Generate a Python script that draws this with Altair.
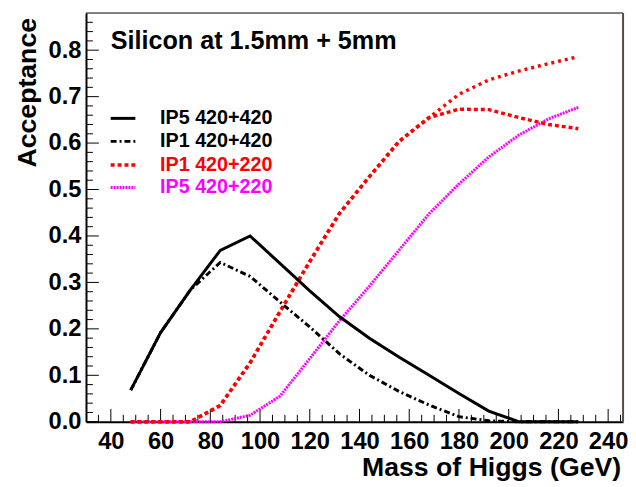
import altair as alt
import pandas as pd
import numpy as np

# ---- data ----
mass = [48, 60, 72, 84, 96, 108, 120, 132, 144, 156, 168, 180, 192, 204, 216, 228]
ip5_420_420 = [0.068, 0.192, 0.284, 0.369, 0.400, 0.341, 0.282, 0.226, 0.180, 0.139, 0.100, 0.061, 0.023, 0.0, 0.0, 0.0]
ip1_420_420 = [0.068, 0.192, 0.284, 0.343, 0.313, 0.258, 0.204, 0.146, 0.100, 0.065, 0.036, 0.011, 0.002, 0.0, 0.0, 0.0]
ip1_420_220 = [0.0, 0.0, 0.0, 0.035, 0.127, 0.237, 0.345, 0.449, 0.528, 0.604, 0.655, 0.673, 0.672, 0.655, 0.640, 0.631]
red_upper = [0.0, 0.0, 0.0, 0.035, 0.127, 0.237, 0.345, 0.449, 0.528, 0.604, 0.655, 0.705, 0.736, 0.755, 0.771, 0.786]
ip5_420_220 = [0.0, 0.0, 0.0, 0.0, 0.014, 0.055, 0.136, 0.218, 0.292, 0.370, 0.448, 0.512, 0.570, 0.617, 0.652, 0.677]

legend_labels = ["IP5 420+420", "IP1 420+420", "IP1 420+220", "IP5 420+220"]
x_tick_labels = [40, 60, 80, 100, 120, 140, 160, 180, 200, 220, 240]
y_tick_labels = [0.0, 0.1, 0.2, 0.3, 0.4, 0.5, 0.6, 0.7, 0.8]
title_text = "Silicon at 1.5mm + 5mm"
x_title = "Mass of Higgs (GeV)"
y_title = "Acceptance"

W, H = 544, 414
FONT = "Liberation Sans"
xs = alt.Scale(domain=[30, 246], nice=False, zero=False)
ys = alt.Scale(domain=[0, 0.88], nice=False, zero=False)

DASHDOT = [6, 3, 2, 3]
RED_DASH = [4, 3]
RED_DOT = [3, 4]
MAG_DOT = [2, 1]


def curve(vals, color, dash, width=3):
    df = pd.DataFrame({"m": mass, "a": vals})
    kw = dict(color=color, strokeWidth=width, clip=False)
    if dash:
        kw["strokeDash"] = dash
    return alt.Chart(df).mark_line(**kw).encode(
        x=alt.X("m:Q", scale=xs, axis=None),
        y=alt.Y("a:Q", scale=ys, axis=None),
    )


# axes (labels only)
xaxis = alt.Chart(pd.DataFrame({"m": x_tick_labels})).mark_point(opacity=0).encode(
    x=alt.X("m:Q", scale=xs, axis=alt.Axis(
        values=x_tick_labels, ticks=False, grid=False, labelPadding=8,
        labelFont=FONT, labelFontWeight="bold", labelFontSize=24, labelColor="black",
        domainColor="black", domainWidth=2, title=None, labelOverlap=False, labelFlush=False)),
    y=alt.Y("m:Q", scale=alt.Scale(domain=[0, 1e9]), axis=None),
)
yaxis = alt.Chart(pd.DataFrame({"a": y_tick_labels})).mark_point(opacity=0).encode(
    y=alt.Y("a:Q", scale=ys, axis=alt.Axis(
        values=y_tick_labels, ticks=False, grid=False, labelPadding=5, format=".1f",
        labelFont=FONT, labelFontWeight="bold", labelFontSize=24, labelColor="black",
        domainColor="black", domainWidth=2, title=None, labelOverlap=False, labelFlush=False)),
    x=alt.X("a:Q", scale=alt.Scale(domain=[-1e9, -1e8]), axis=None),
)

# inward ticks
x_major = [v for v in x_tick_labels]
x_minor = [v for v in np.arange(35, 246, 5).tolist() if v not in x_major]
y_major = y_tick_labels
y_minor = [round(v, 2) for v in np.arange(0.02, 0.88, 0.02).tolist() if abs(v * 10 - round(v * 10)) > 1e-6]


def xticks(vals, length):
    return alt.Chart(pd.DataFrame({"m": vals})).mark_rule(color="black", strokeWidth=1).encode(
        x=alt.X("m:Q", scale=xs, axis=None), y=alt.value(H), y2=alt.value(H - length))


def yticks(vals, length):
    return alt.Chart(pd.DataFrame({"a": vals})).mark_rule(color="black", strokeWidth=1).encode(
        y=alt.Y("a:Q", scale=ys, axis=None), x=alt.value(0), x2=alt.value(length))


frame_top = alt.Chart(pd.DataFrame({"k": [0]})).mark_rule(color="black", strokeWidth=1).encode(
    x=alt.value(0), x2=alt.value(W), y=alt.value(0))
frame_right = alt.Chart(pd.DataFrame({"k": [0]})).mark_rule(color="#5c4a45", strokeWidth=2).encode(
    x=alt.value(W), y=alt.value(0), y2=alt.value(H))

layers = [
    xaxis, yaxis,
    xticks(x_major, 13), xticks(x_minor, 7),
    yticks(y_major, 13), yticks(y_minor, 7),
    frame_top, frame_right,
    curve(ip5_420_220, "#ff00ff", MAG_DOT, 3),
    curve(red_upper, "#ff0000", RED_DOT, 3.5),
    curve(ip1_420_220, "#ff0000", RED_DASH, 3.5),
    curve(ip1_420_420, "black", DASHDOT, 3),
    curve(ip5_420_420, "black", None, 3),
]

# legend
leg_styles = [("black", None, 3), ("black", DASHDOT, 3), ("#ff0000", RED_DASH, 3.5), ("#ff00ff", MAG_DOT, 3)]
leg_y = [106.7, 130, 154, 176.7]
for lab, (col, dash, wdt), yy in zip(legend_labels, leg_styles, leg_y):
    d = pd.DataFrame({"label": [lab]})
    kw = dict(color=col, strokeWidth=wdt)
    if dash:
        kw["strokeDash"] = dash
    layers.append(alt.Chart(d).mark_rule(**kw).encode(
        x=alt.value(25), x2=alt.value(50), y=alt.value(yy)))
    layers.append(alt.Chart(d).mark_text(
        font=FONT, fontWeight="bold", fontSize=20, color=col, align="left", baseline="middle").encode(
        text="label:N", x=alt.value(75), y=alt.value(yy)))

texts = pd.DataFrame({"t": [title_text], "xt": [x_title], "yt": [y_title]})
layers.append(alt.Chart(texts).mark_text(
    font=FONT, fontWeight="bold", fontSize=25.5, color="black", align="left", baseline="middle").encode(
    text="t:N", x=alt.value(25), y=alt.value(28)))
layers.append(alt.Chart(texts).mark_text(
    font=FONT, fontWeight="bold", fontSize=27, color="black", align="right", baseline="alphabetic").encode(
    text="xt:N", x=alt.value(542), y=alt.value(469)))
layers.append(alt.Chart(texts).mark_text(
    font=FONT, fontWeight="bold", fontSize=27, color="black", align="right", baseline="alphabetic",
    angle=270).encode(
    text="yt:N", x=alt.value(-50.5), y=alt.value(5)))

chart = alt.layer(*layers).resolve_scale(x="independent", y="independent").properties(
    width=W, height=H,
    padding={"left": 79, "top": 2, "right": 5, "bottom": 63},
    autosize=alt.AutoSizeParams(type="none"),
).configure_view(stroke=None)

chart.save("out.html", embed_options={"renderer": "svg", "actions": False})
